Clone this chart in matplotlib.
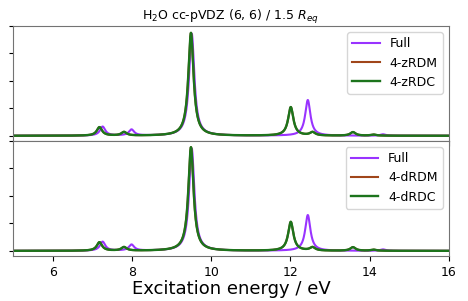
import numpy as np
import matplotlib
matplotlib.use("Agg")
import matplotlib.pyplot as plt

# stick spectra (energy in eV, peak height in arb. units)
full_e = [7.26, 7.99, 9.51, 12.44, 14.34]
full_h = [0.33, 0.22, 3.72, 1.30, 0.05]

zrdm_e = [7.18, 7.80, 9.49, 12.01, 12.56, 13.58, 14.10]
zrdm_h = [0.31, 0.13, 3.75, 1.04, 0.12, 0.13, 0.04]
zrdc_e = [7.18, 7.80, 9.49, 12.01, 12.56, 13.58, 14.10]
zrdc_h = [0.31, 0.13, 3.75, 1.04, 0.12, 0.13, 0.04]

drdm_e = [7.18, 7.80, 9.49, 12.01, 12.56, 13.58, 14.10]
drdm_h = [0.31, 0.13, 3.77, 1.05, 0.12, 0.13, 0.04]
drdc_e = [7.18, 7.80, 9.49, 12.01, 12.56, 13.58, 14.10]
drdc_h = [0.31, 0.13, 3.77, 1.05, 0.12, 0.13, 0.04]

gamma = 0.08  # lorentzian half width
x = np.linspace(5, 16, 2000)


def broaden(ens, hts):
    y = np.zeros_like(x)
    for e, h in zip(ens, hts):
        y += h * gamma**2 / ((x - e)**2 + gamma**2)
    return y


c_full = '#9933ff'
c_rdm = '#a0461a'
c_rdc = '#1c741c'

fig = plt.figure(figsize=(4.68, 3.01), dpi=100)
ax1 = fig.add_axes([0.028, 0.532, 0.931, 0.3816])
ax2 = fig.add_axes([0.028, 0.1495, 0.931, 0.3825], sharex=ax1)

panels = [(ax1, zrdm_e, zrdm_h, zrdc_e, zrdc_h, '4-zRDM', '4-zRDC'),
          (ax2, drdm_e, drdm_h, drdc_e, drdc_h, '4-dRDM', '4-dRDC')]

for ax, me, mh, ce, ch, lm, lc in panels:
    ax.plot(x, broaden(full_e, full_h), color=c_full, lw=1.5, label='Full')
    ax.plot(x, broaden(me, mh), color=c_rdm, lw=1.5, label=lm)
    ax.plot(x, broaden(ce, ch), color=c_rdc, lw=1.7, label=lc)
    ax.set_yticks([0, 1, 2, 3, 4])
    ax.tick_params(axis='y', labelleft=False, length=3)
    ax.legend(loc='upper right', fontsize=9, handlelength=2.2)
    for s in ax.spines.values():
        s.set_color('0.45')

ax1.set_xlim(5, 16)
ax1.tick_params(axis='x', labelbottom=False)
ax2.set_xticks([6, 8, 10, 12, 14, 16])
ax2.tick_params(axis='x', labelsize=9)
ax2.set_xlabel('Excitation energy / eV', fontsize=13, labelpad=1)
ax1.set_title(r'H$_2$O cc-pVDZ (6, 6) / 1.5 $R_{eq}$', fontsize=9, pad=4)

fig.savefig('out.png', dpi=100)
